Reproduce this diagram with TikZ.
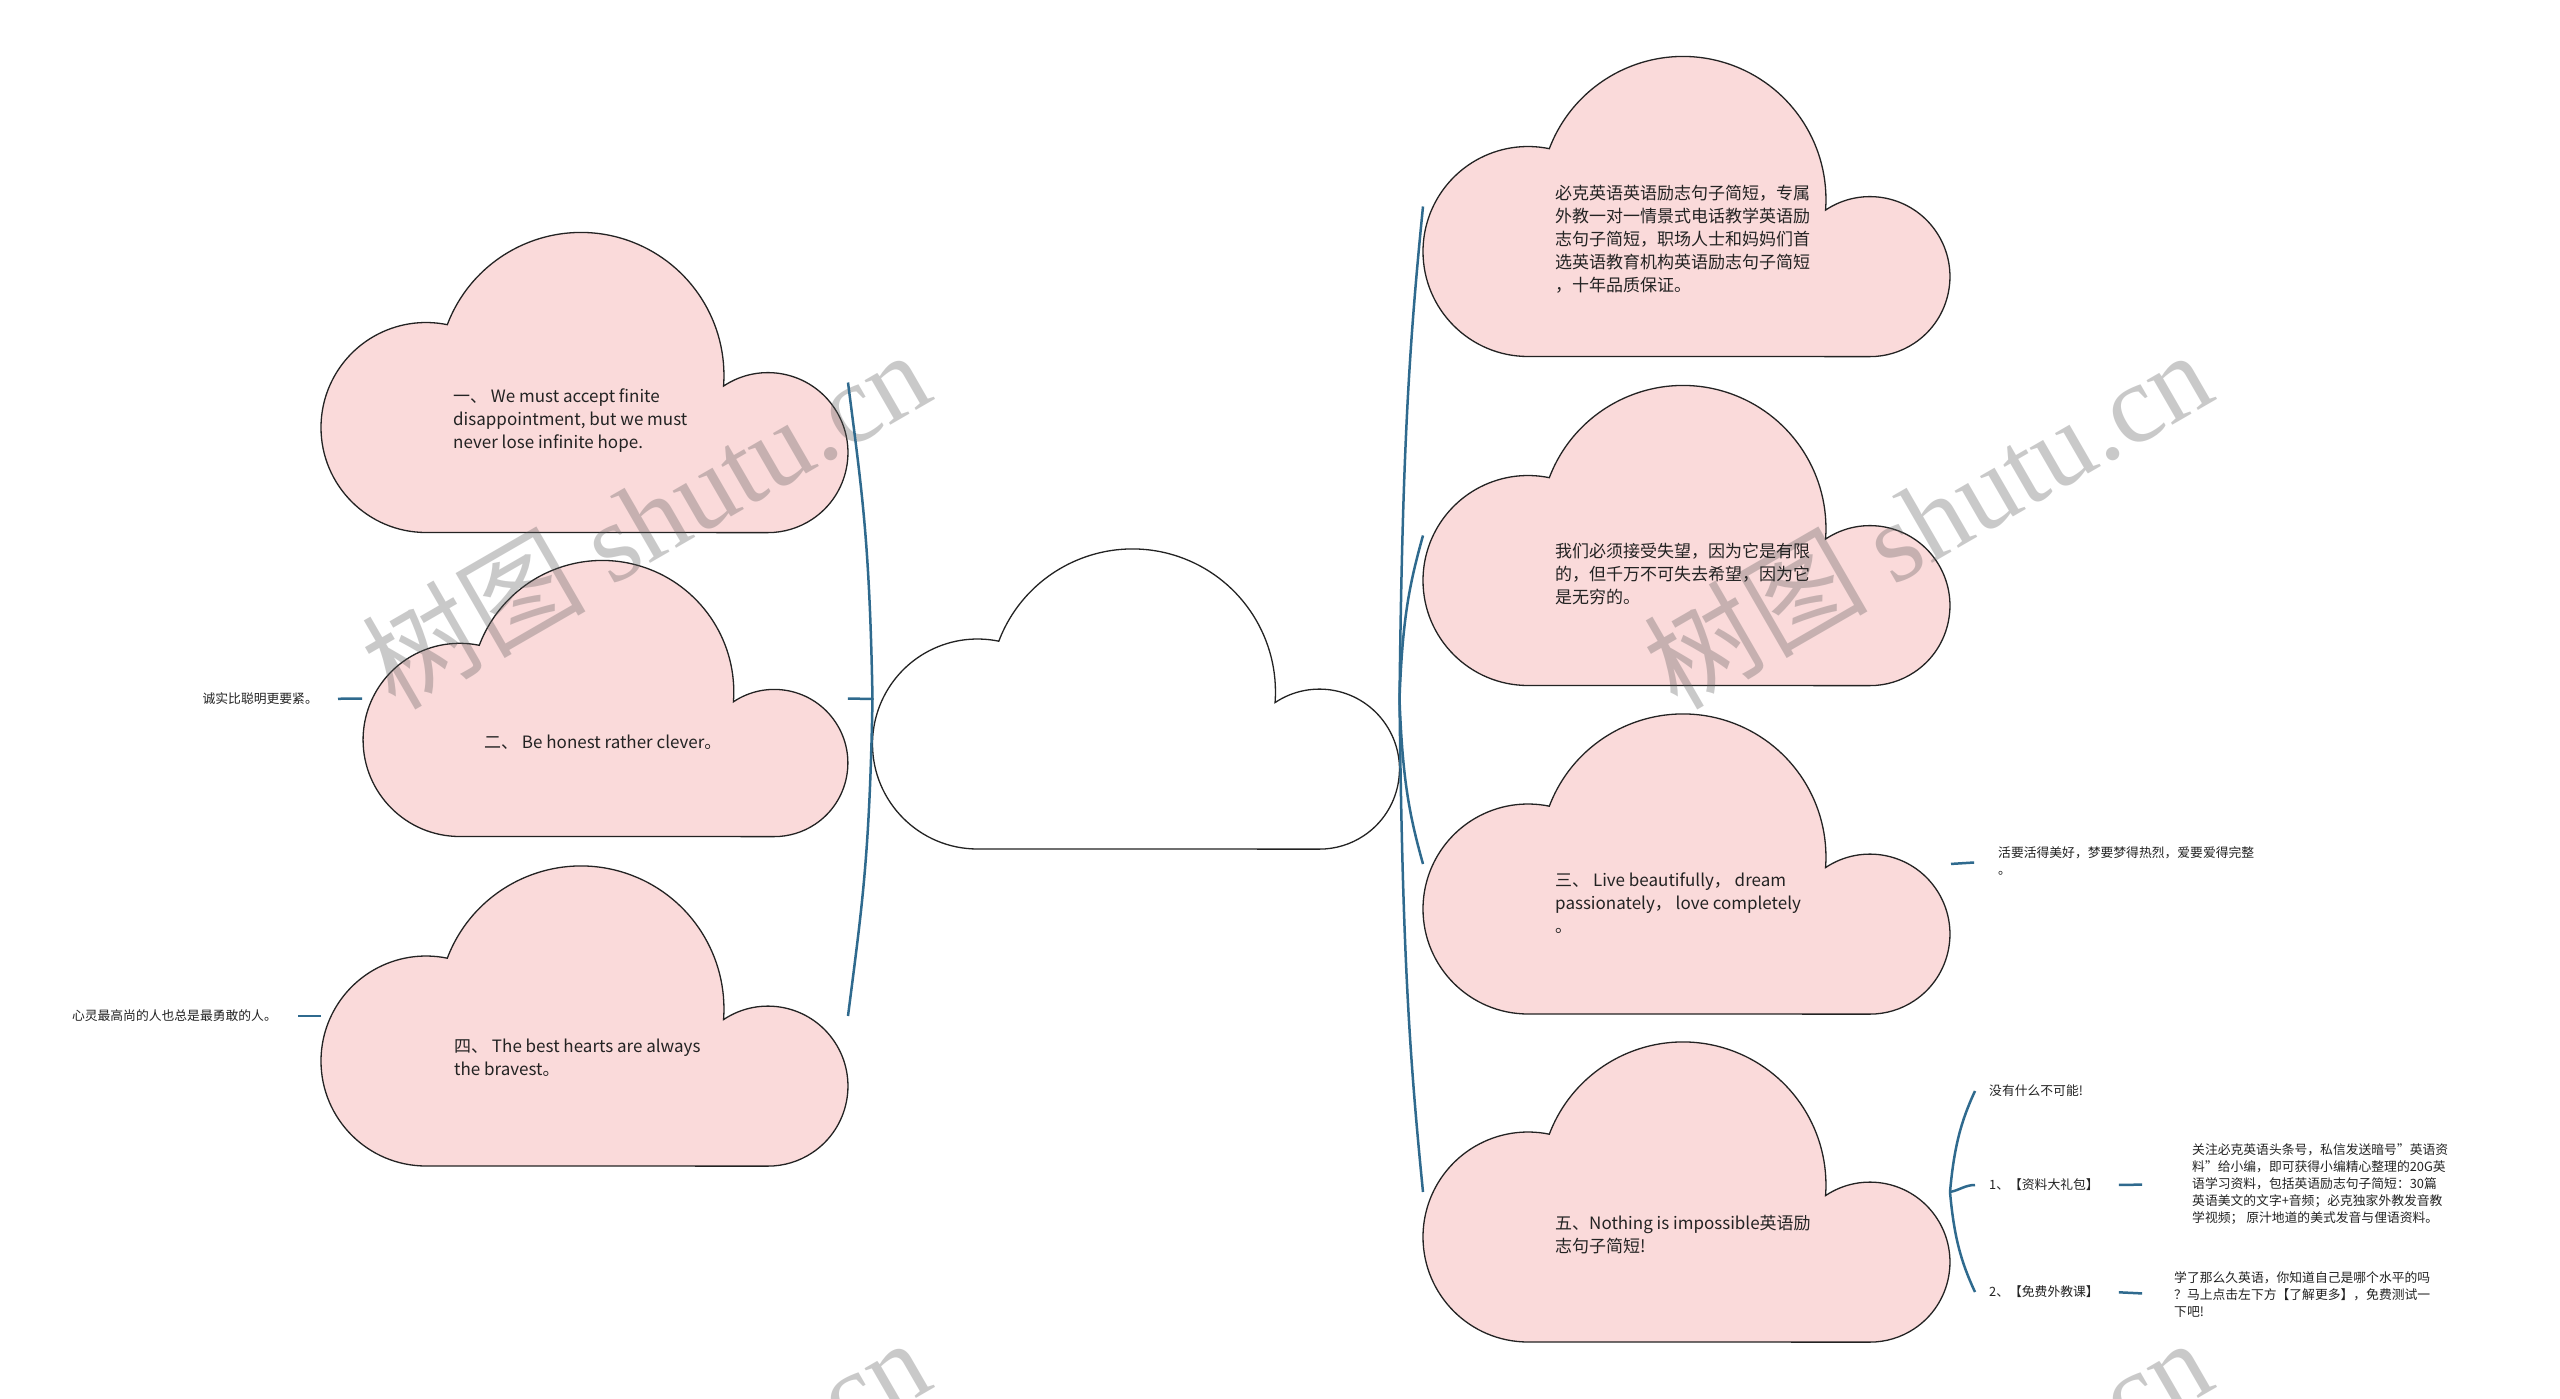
\documentclass[tikz,border=0pt]{standalone}
\usepackage{fontspec}
\setmainfont{Noto Sans CJK SC}
\newfontfamily\markfont{Liberation Serif}
\usepackage{tikz}
\usetikzlibrary{calc}
\definecolor{cloud_pink}{RGB}{250,218,218}
\definecolor{edge_blue}{RGB}{47,106,142}
\definecolor{line_gray}{RGB}{35,35,35}
\definecolor{mark_gray}{RGB}{90,90,90}

% cloud outline: name, centre, scale, fill
\newcommand\drawcloud[4]{%
  \node[cloudbox, minimum width=#3*527pt, minimum height=#3*300pt] (#1) at (#2) {};
  \draw[cloudline, fill=#4, shift={(#1.north west)}, scale=#3]
    (105,300) arc[start angle=90, end angle=281.7, radius=105]
    arc[start angle=200.8, end angle=364.25, radius=143]
    arc[start angle=236.3, end angle=450, radius=80] -- cycle;
}

\begin{document}
\begin{tikzpicture}[x=1pt, y=-1pt]
    \tikzstyle{cloudbox}=[rectangle, draw=none, inner sep=0, outer sep=0]
    \tikzstyle{cloudline}=[draw=line_gray, line width=1.3pt]
    \tikzstyle{cloudtext}=[anchor=west, inner sep=0, align=left, text=line_gray, font=\fontsize{17pt}{23pt}\selectfont]
    \tikzstyle{leaf}=[inner sep=0, align=left, text=line_gray, font=\fontsize{12.8pt}{17pt}\selectfont]
    \tikzstyle{child}=[style=leaf, anchor=west, inner xsep=14pt]
    \tikzstyle{link}=[draw=edge_blue, line width=2.5pt]
    \tikzstyle{watermark}=[rotate=30, inner sep=0, text=mark_gray, text opacity=0.32, font=\fontsize{112pt}{112pt}\selectfont]

    \useasboundingbox (0,0) rectangle (2560,1399);
    \fill[white] (0,0) rectangle (2560,1399);
    \clip (0,0) rectangle (2560,1399);

    % clouds
    \drawcloud{root}{1136,699}{1}{white}
    \drawcloud{one}{584.5,382.5}{1}{cloud_pink}
    \drawcloud{two}{605.5,698.5}{0.92}{cloud_pink}
    \drawcloud{four}{584.5,1016}{1}{cloud_pink}
    \drawcloud{ad}{1686.5,206.5}{1}{cloud_pink}
    \drawcloud{hope}{1686.5,535.5}{1}{cloud_pink}
    \drawcloud{three}{1686.5,864}{1}{cloud_pink}
    \drawcloud{five}{1686.5,1192}{1}{cloud_pink}

    % watermark
    \node[watermark] (wm1) at (645,518)   {树图 {\markfont shutu.cn}};
    \node[watermark] (wm2) at (1927,518)  {树图 {\markfont shutu.cn}};
    \node[watermark] (wm3) at (645,1506)  {树图 {\markfont shutu.cn}};
    \node[watermark] (wm4) at (1927,1506) {树图 {\markfont shutu.cn}};

    % cloud texts
    \node[cloudtext] (t_one)   at (453,421)    {一、 We must accept finite\\disappointment, but we must\\never lose infinite hope.};
    \node[cloudtext] (t_two)   at (484,742)    {二、 Be honest rather clever。};
    \node[cloudtext] (t_four)  at (454,1058)   {四、 The best hearts are always\\the bravest。};
    \node[cloudtext] (t_ad)    at (1555,239)   {必克英语英语励志句子简短，专属\\外教一对一情景式电话教学英语励\\志句子简短，职场人士和妈妈们首\\选英语教育机构英语励志句子简短\\，十年品质保证。};
    \node[cloudtext] (t_hope)  at (1555,574)   {我们必须接受失望，因为它是有限\\的，但千万不可失去希望，因为它\\是无穷的。};
    \node[cloudtext] (t_three) at (1555,903)   {三、 Live beautifully， dream\\passionately， love completely\\。};
    \node[cloudtext] (t_five)  at (1555,1234.5) {五、Nothing is impossible英语励\\志句子简短!};

    % leaves
    \node[leaf, anchor=east] (honest)  at (318,699)  {诚实比聪明更要紧。};
    \node[leaf, anchor=east] (bravest) at (277,1016) {心灵最高尚的人也总是最勇敢的人。};
    \node[leaf, anchor=west] (live)    at (1998,861) {活要活得美好，梦要梦得热烈，爱要爱得完整\\。};
    \node[child] (nothing) at (1975,1091) {没有什么不可能!};
    \node[child] (gift)    at (1975,1185) {1、【资料大礼包】};
    \node[child] (lesson)  at (1975,1292) {2、【免费外教课】};
    \node[leaf, anchor=west] (gift_d)   at (2192,1184) {关注必克英语头条号，私信发送暗号"英语资\\料"给小编，即可获得小编精心整理的20G英\\语学习资料，包括英语励志句子简短：30篇\\英语美文的文字+音频；必克独家外教发音教\\学视频； 原汁地道的美式发音与俚语资料。};
    \node[leaf, anchor=west] (lesson_d) at (2174,1295) {学了那么久英语，你知道自己是哪个水平的吗\\？马上点击左下方【了解更多】，免费测试一\\下吧!};

    % connectors
    \draw[link] (root.west) .. controls +(-3,-160) and +(14,110) .. (one.east);
    \draw[link] (root.west) .. controls +(-3,160) and +(14,-110) .. (four.east);
    \draw[link] (root.east) .. controls +(3,-250) and +(-14,140) .. (ad.west);
    \draw[link] (root.east) .. controls +(3,-80) and +(-14,50) .. (hope.west);
    \draw[link] (root.east) .. controls +(3,80) and +(-14,-50) .. (three.west);
    \draw[link] (root.east) .. controls +(3,250) and +(-14,-140) .. (five.west);
    \draw[link] (five.east) .. controls +(4,-45) and +(-14,30) .. (nothing.west);
    \draw[link] (five.east) .. controls +(10,-2) and +(-10,0) .. (gift.west);
    \draw[link] (five.east) .. controls +(4,45) and +(-14,-30) .. (lesson.west);
    \path
     (root.west) edge[link] (two.east)
     (two.west) edge[link, shorten <=1pt, shorten >=20pt] (honest.east)
     (four.west) edge[link, shorten >=21pt] (bravest.east)
     (three.east) edge[link, shorten <=1pt, shorten >=24pt] (live.west)
     (gift.east) edge[link, shorten <=6pt, shorten >=50pt] (gift_d.west)
     (lesson.east) edge[link, shorten <=6pt, shorten >=32pt] (lesson_d.west)
     ;
\end{tikzpicture}
\end{document}
